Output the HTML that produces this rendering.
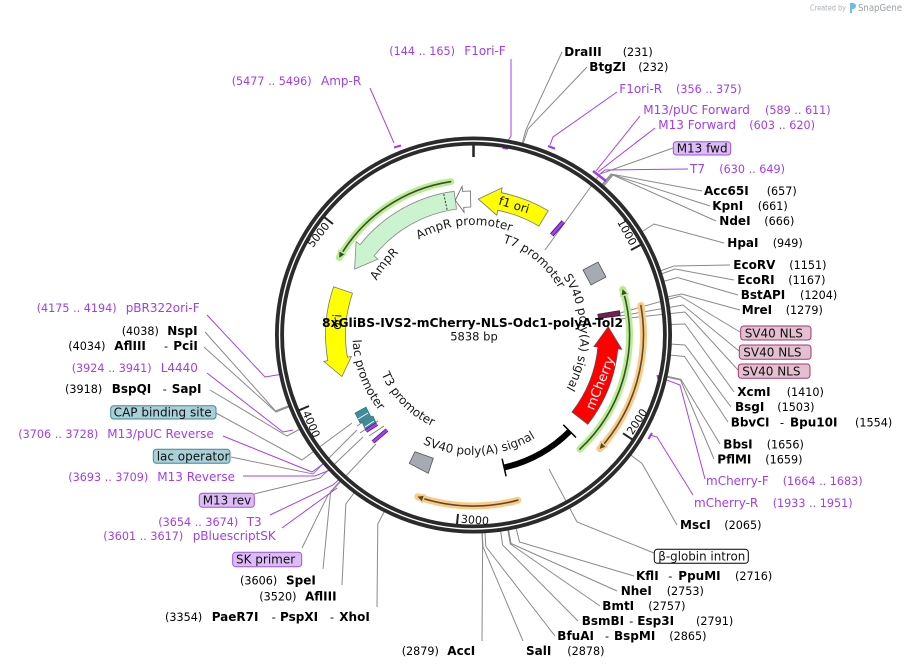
<!DOCTYPE html>
<html><head><meta charset="utf-8"><style>
html,body{margin:0;padding:0;background:#fff;}
svg{display:block;font-family:"DejaVu Sans","Liberation Sans",sans-serif;}
.b{font-weight:bold;font-size:12px;fill:#000}
.n{font-size:11.2px;fill:#000}
.p{font-size:12px;fill:#a23cf0}
.pn{font-size:11.2px;fill:#a23cf0}
.g{stroke:#8a8a8a;stroke-width:1;fill:none}
.pl{stroke:#a640f0;stroke-width:1;fill:none}
.pm{stroke:#a23cf0;stroke-width:2.2;fill:none}
.in{font-size:12px;fill:#1a1a1a}
.bx{font-size:12px;fill:#111}
</style></head><body>
<svg width="907" height="670" viewBox="0 0 907 670" xmlns="http://www.w3.org/2000/svg">
<defs>
<path id="pamprp" d="M 418.5 239.7 A 110 110 0 0 1 511.1 231.6"/>
<path id="pampr" d="M 376.4 281.2 A 111 111 0 0 1 399.2 252.5"/>
<path id="pt7" d="M 503.5 242.7 A 97 97 0 0 1 558.3 288"/>
<path id="psvr" d="M 563.2 276.7 A 107 107 0 0 1 566.2 388.5"/>
<path id="psvb" d="M 417.2 441 A 120 120 0 0 0 540.6 434.5"/>
<path id="plac" d="M 352.5 337.1 A 121 121 0 0 0 380.8 412.8"/>
<path id="pt3" d="M 381.1 373.3 A 100 100 0 0 0 433.1 426.5"/>
</defs>

<!-- Created by SnapGene -->
<text x="810" y="10.5" font-size="7.5" fill="#aab0b5" textLength="36" lengthAdjust="spacingAndGlyphs">Created by</text>
<path d="M850 3 h3 a3 3 0 0 1 0 6 h-1 v4 h-2 z" fill="#6cbde8"/>
<text x="858" y="11" font-size="9.5" fill="#9aa0a6" textLength="44" lengthAdjust="spacingAndGlyphs">SnapGene</text>

<!-- Gray leader lines (enzymes) -->
<polyline class="g" points="562,52 526,129.6 522,144"/>
<polyline class="g" points="587,67 528,129 523,144"/>
<polyline class="g" points="702,191 611,174 601.5,185"/>
<polyline class="g" points="710,206 612,174.5 602,186"/>
<polyline class="g" points="716,221 613,175 603,187"/>
<polyline class="g" points="724,243 654,224 641.5,232"/>
<polyline class="g" points="730,265 674,266 660,271"/>
<polyline class="g" points="734,280 675,269 661,274"/>
<polyline class="g" points="738,295 677.5,277.5 663,281.5"/>
<polyline class="g" points="740,310 681.5,294 667,297"/>
<polyline class="g" points="734,392 685,324 670,324.5"/>
<polyline class="g" points="731,407 685,345 670,344"/>
<polyline class="g" points="728,422 684.5,356.5 669.5,355"/>
<polyline class="g" points="720,444 681,379.5 666,376"/>
<polyline class="g" points="714,459 680.5,380 666,377"/>
<polyline class="g" points="677,525 642,463.5 630,454.5"/>
<polyline class="g" points="634,576 519.5,542 516,527.5"/>
<polyline class="g" points="617,591 511,543.5 508.5,529"/>
<polyline class="g" points="600,606 510.3,544 507.7,529"/>
<polyline class="g" points="578,621 502.6,545 500.5,530"/>
<polyline class="g" points="555,636 485.8,546.5 485,531.5"/>
<polyline class="g" points="523,641 483,546.8 482.2,531.8"/>
<polyline class="g" points="482,641 482.6,546.8 482,531.8"/>
<polyline class="g" points="377,607 377.8,524 384.6,511"/>
<polyline class="g" points="342,585 345.8,504 354.8,492"/>
<polyline class="g" points="323,569 330.6,491.6 340.7,480.5"/>
<polyline class="g" points="210,390 287,436 300,429"/>
<polyline class="g" points="204,347 276,412 290,406.5"/>
<polyline class="g" points="205,332 275.5,411 289.5,405.5"/>
<!-- feature leader lines -->
<polyline class="g" points="673,148 600,174 545,250"/>
<polyline class="g" points="740,332 680,296 620,313"/>
<polyline class="g" points="739,351 683,305 620,316"/>
<polyline class="g" points="738,370 685,312 620,319"/>
<polyline class="g" points="654,553 577,522 549,469"/>
<polyline class="g" points="216,413 302,460 352,423"/>
<polyline class="g" points="231,457 313,474 357,430"/>
<polyline class="g" points="254,494 320,478 363,437"/>
<polyline class="g" points="302,548 328,495 376,444"/>

<!-- Purple primer lines -->
<polyline class="pl" points="370,88 394,143"/>
<line class="pm" x1="394" y1="147.5" x2="401" y2="145.5"/>
<polyline class="pl" points="511,59 511,136 507,142"/>
<line class="pm" x1="502.5" y1="147.8" x2="508" y2="148.6"/>
<polyline class="pl" points="617,92 553,137 550,145"/>
<line class="pm" x1="548" y1="146" x2="555" y2="148.7"/>
<polyline class="pl" points="640,116 596,171"/>
<polyline class="pl" points="655,128 598,172"/>
<polyline class="pl" points="688,169 605,170 600,174"/>
<line x1="593" y1="171" x2="606" y2="181" stroke="#a23cf0" stroke-width="2.6"/>
<polyline class="pl" points="705,479 680,385 659,377"/>
<line class="pm" x1="657.5" y1="375" x2="659.5" y2="383"/>
<polyline class="pl" points="693,495 657,437 650,435"/>
<line class="pm" x1="652" y1="433" x2="648.5" y2="439"/>
<polyline class="pl" points="207,315 265,377 283,374"/>
<line class="pm" x1="285" y1="371" x2="286" y2="378"/>
<polyline class="pl" points="207,373 283,432 293,430"/>
<line class="pm" x1="300" y1="426" x2="304" y2="420.5"/>
<polyline class="pl" points="223,436 312,472 327,461"/>
<line class="pm" x1="326" y1="459" x2="333" y2="464"/>
<polyline class="pl" points="243,476 315,476 335,468"/>
<line class="pm" x1="332" y1="466" x2="338" y2="471"/>
<polyline class="pl" points="270,515 333,485 343,476"/>
<line class="pm" x1="340" y1="474" x2="346" y2="478"/>
<polyline class="pl" points="282,528 337,488"/>

<!-- Ring -->
<circle cx="473.5" cy="335" r="194" fill="none" stroke="#2b2b2b" stroke-width="9"/>
<circle cx="473.5" cy="335" r="194" fill="none" stroke="#fff" stroke-width="1.4"/>
<!-- ticks -->
<g stroke="#222" stroke-width="2">
<line x1="473.5" y1="145.5" x2="473.5" y2="157" stroke-width="2.5"/>
<line x1="640.8" y1="244.8" x2="631" y2="250"/>
<line x1="632.3" y1="439.4" x2="623" y2="433.3"/>
<line x1="457" y1="524" x2="458" y2="514"/>
<line x1="299" y1="410.3" x2="309" y2="406"/>
<line x1="324.5" y1="217.3" x2="333" y2="224"/>
</g>
<g font-size="11" fill="#111">
<text transform="rotate(61.66 473.5 335)" x="470" y="155" text-anchor="end">1000</text>
<text transform="rotate(308.3 473.5 335)" x="470" y="155" text-anchor="end">5000</text>
<text transform="rotate(-56.68 473.5 335)" x="477" y="523" text-anchor="start">2000</text>
<text transform="rotate(4.98 473.5 335)" x="477" y="523" text-anchor="start">3000</text>
<text transform="rotate(66.64 473.5 335)" x="477" y="523" text-anchor="start">4000</text>
</g>

<!-- ORF glows -->
<g fill="none" stroke-linecap="round">
<path d="M 450.6 181.7 A 155 155 0 0 0 339.3 257.5" stroke="#b8ee90" stroke-width="7"/>
<path d="M 450.6 181.7 A 155 155 0 0 0 339.3 257.5" stroke="#3d4a32" stroke-width="1.6"/>
<path d="M 579.9 449.1 A 156 156 0 0 0 622.7 289.4" stroke="#b8ee90" stroke-width="7"/>
<path d="M 579.9 449.1 A 156 156 0 0 0 622.7 289.4" stroke="#3d4a32" stroke-width="1.6"/>
<path d="M 640.9 305.5 A 170 170 0 0 1 599.8 448.7" stroke="#fbcb85" stroke-width="7"/>
<path d="M 640.9 305.5 A 170 170 0 0 1 599.8 448.7" stroke="#5a4a30" stroke-width="1.6"/>
<path d="M 517.8 500.2 A 171 171 0 0 1 417.8 496.7" stroke="#fbcb85" stroke-width="7"/>
<path d="M 517.8 500.2 A 171 171 0 0 1 417.8 496.7" stroke="#5a4a30" stroke-width="1.6"/>
</g>
<g stroke-linejoin="round">
<polygon points="338.8,250.3 338.3,259.2 345.8,254.3" fill="#3d4a32" stroke="#b8ee90" stroke-width="1.5"/>
<polygon points="628.3,293.9 622.1,287.5 620.7,296.3" fill="#3d4a32" stroke="#b8ee90" stroke-width="1.5"/>
<polygon points="606.8,446.9 598.5,450.2 600.8,441.5" fill="#5a4a30" stroke="#fbcb85" stroke-width="1.5"/>
<polygon points="422.2,502.5 415.9,496.1 424.8,494.9" fill="#5a4a30" stroke="#fbcb85" stroke-width="1.5"/>
</g>

<!-- Features -->
<path d="M 548.2 210.7 A 145 145 0 0 0 501.2 192.7 L 502.1 187.8 L 478.2 199.1 L 496.8 215.2 L 497.7 210.3 A 127 127 0 0 1 538.9 226.1 Z" fill="#ffff00" stroke="#777" stroke-width="0.8"/>
<path d="M 454.1 191.3 A 145 145 0 0 0 360 244.7 L 356.1 241.6 L 354.6 269.1 L 378 259.1 L 374.1 255.9 A 127 127 0 0 1 456.5 209.1 Z" fill="#ccf3cf" stroke="#888" stroke-width="0.8"/>
<line x1="447.1" y1="209.7" x2="443.8" y2="194.1" stroke="#333" stroke-width="1" stroke-dasharray="2,1.5"/>
<path d="M 470.5 191 A 144 144 0 0 0 462.5 191.4 L 462.1 186.4 L 455.3 200.2 L 464.1 212.4 L 463.7 207.4 A 128 128 0 0 1 470.8 207 Z" fill="#fff" stroke="#666" stroke-width="0.8"/>
<path d="M 333.6 286.8 A 148 148 0 0 0 327.8 360.7 L 323.8 361.4 L 341.9 376.5 L 351.4 356.5 L 347.4 357.2 A 128 128 0 0 1 352.5 293.3 Z" fill="#ffff00" stroke="#777" stroke-width="0.8"/>
<path d="M 587.8 424.3 A 145 145 0 0 0 617.8 348.9 L 621.8 349.3 L 608.2 326.8 L 593.9 346.6 L 597.9 347 A 125 125 0 0 1 572 412 Z" fill="#ff0000" stroke="#555" stroke-width="0.8"/>
<path d="M 569.7 431.2 A 136 136 0 0 1 504.1 467.5" fill="none" stroke="#000" stroke-width="6"/>
<line x1="563.3" y1="424.8" x2="576" y2="437.5" stroke="#000" stroke-width="1.5"/>
<line x1="502.1" y1="458.7" x2="506.1" y2="476.3" stroke="#000" stroke-width="1.5"/>
<polygon points="597.8,314.2 619.5,310.6 620.2,315.7 598.4,318.6" fill="#6e2050" stroke="#3a0a28" stroke-width="0.6"/>
<polygon points="583,270 598,262 606,277 591,285" fill="#a6aab2" stroke="#555" stroke-width="0.8"/>
<polygon points="409.3,463.3 415,451.7 433.3,458.3 428.3,473.3" fill="#a6aab2" stroke="#555" stroke-width="0.8"/>
<line x1="551.7" y1="235" x2="563.3" y2="221.7" stroke="#4a1a7a" stroke-width="4.5"/>
<line x1="551.7" y1="235" x2="563.3" y2="221.7" stroke="#a640f0" stroke-width="2.6"/>
<!-- left cluster -->
<polygon points="355,413 366,407 371,417 360,423" fill="#3c8e9a" stroke="#2a6a75" stroke-width="0.6"/>
<polygon points="362,422 373,416 377,425 366,431" fill="#3c8e9a" stroke="#2a6a75" stroke-width="0.6"/>
<line x1="358" y1="419" x2="368" y2="413" stroke="#fff" stroke-width="0.8"/>
<line x1="365" y1="427" x2="374" y2="421" stroke="#fff" stroke-width="0.8"/>
<g stroke="#777" stroke-width="0.8">
<line x1="357" y1="426" x2="372" y2="416"/>
<line x1="360" y1="433" x2="378" y2="421"/>
<line x1="369" y1="436" x2="384" y2="426"/>
</g>
<line x1="366" y1="431" x2="377" y2="424" stroke="#4a1a7a" stroke-width="4"/>
<line x1="366" y1="431" x2="377" y2="424" stroke="#a640f0" stroke-width="2.4"/>
<line x1="373" y1="442" x2="387" y2="430" stroke="#4a1a7a" stroke-width="4"/>
<line x1="373" y1="442" x2="387" y2="430" stroke="#a640f0" stroke-width="2.4"/>

<!-- Inner labels -->
<text class="in" font-size="11.5"><textPath href="#pamprp" startOffset="50%" text-anchor="middle">AmpR promoter</textPath></text>
<text class="in"><textPath href="#pampr" startOffset="50%" text-anchor="middle">AmpR</textPath></text>
<text class="in"><textPath href="#pt7" startOffset="50%" text-anchor="middle">T7 promoter</textPath></text>
<text class="in" font-size="11.5"><textPath href="#psvr" startOffset="50%" text-anchor="middle">SV40 poly(A) signal</textPath></text>
<text class="in"><textPath href="#psvb" startOffset="50%" text-anchor="middle">SV40 poly(A) signal</textPath></text>
<text class="in"><textPath href="#plac" startOffset="50%" text-anchor="middle">lac promoter</textPath></text>
<text class="in"><textPath href="#pt3" startOffset="50%" text-anchor="middle">T3 promoter</textPath></text>
<text transform="translate(514,205) rotate(17)" text-anchor="middle" y="4" font-size="12" fill="#111">f1 ori</text>
<text transform="translate(600,383) rotate(-68)" text-anchor="middle" y="4.5" font-size="13" fill="#fff">mCherry</text>
<text transform="translate(337,322) rotate(-86)" text-anchor="middle" y="4" font-size="12" fill="#111">ori</text>

<!-- Title -->
<text x="472.5" y="327" text-anchor="middle" font-weight="bold" font-size="12.5" fill="#000" textLength="301" lengthAdjust="spacingAndGlyphs">8xGliBS-IVS2-mCherry-NLS-Odc1-polyA-Tol2</text>
<text x="474" y="340.5" text-anchor="middle" font-size="11.5" fill="#111">5838 bp</text>

<!-- Boxes -->
<rect x="673.3" y="141.7" width="57.4" height="13.3" rx="3" fill="#dcbcf6" stroke="#a050e0"/>
<text class="bx" x="676.7" y="152.5">M13 fwd</text>
<rect x="740.7" y="326" width="70.3" height="14" rx="3" fill="#e3bfd0" stroke="#a03a70"/>
<text class="bx" x="744.7" y="337.5">SV40 NLS</text>
<rect x="739.3" y="345" width="71.7" height="14.3" rx="3" fill="#e3bfd0" stroke="#a03a70"/>
<text class="bx" x="743.3" y="356.5">SV40 NLS</text>
<rect x="738.3" y="364" width="71.7" height="14.3" rx="3" fill="#e3bfd0" stroke="#a03a70"/>
<text class="bx" x="742.3" y="375.5">SV40 NLS</text>
<rect x="654.3" y="549.3" width="94" height="14" rx="3" fill="#fff" stroke="#000"/>
<text class="bx" x="658.3" y="560.5" textLength="87" lengthAdjust="spacingAndGlyphs">β-globin intron</text>
<rect x="110.7" y="405.7" width="105.3" height="13.3" rx="3" fill="#a9d0d9" stroke="#3a8a98"/>
<text class="bx" x="113.7" y="416.5" textLength="98" lengthAdjust="spacingAndGlyphs">CAP binding site</text>
<rect x="153.3" y="449.3" width="76.7" height="14" rx="3" fill="#a9d0d9" stroke="#3a8a98"/>
<text class="bx" x="156.7" y="460.5">lac operator</text>
<rect x="199.3" y="493.3" width="55" height="14" rx="3" fill="#dcbcf6" stroke="#a050e0"/>
<text class="bx" x="202.7" y="504.5">M13 rev</text>
<rect x="232.7" y="552.3" width="69" height="14.4" rx="3" fill="#dcbcf6" stroke="#a050e0"/>
<text class="bx" x="236" y="563.5">SK primer</text>

<!-- Labels top -->
<text y="55"><tspan x="389.3" class="pn">(144 .. 165)</tspan><tspan x="464.3" class="p">F1ori-F</tspan></text>
<text y="85"><tspan x="231.7" class="pn">(5477 .. 5496)</tspan><tspan x="321" class="p">Amp-R</tspan></text>
<text y="56"><tspan x="564.3" class="b">DraIII</tspan><tspan x="622.7" class="n">(231)</tspan></text>
<text y="71"><tspan x="589.3" class="b">BtgZI</tspan><tspan x="638.3" class="n">(232)</tspan></text>
<text y="93"><tspan x="619.3" class="p">F1ori-R</tspan><tspan x="676" class="pn">(356 .. 375)</tspan></text>
<text y="114"><tspan x="643.3" class="p">M13/pUC Forward</tspan><tspan x="765" class="pn">(589 .. 611)</tspan></text>
<text y="129"><tspan x="658.3" class="p">M13 Forward</tspan><tspan x="749.3" class="pn">(603 .. 620)</tspan></text>
<text y="173"><tspan x="690" class="p">T7</tspan><tspan x="719.3" class="pn">(630 .. 649)</tspan></text>
<!-- right -->
<text y="195"><tspan x="704" class="b">Acc65I</tspan><tspan x="766.7" class="n">(657)</tspan></text>
<text y="210"><tspan x="712.3" class="b">KpnI</tspan><tspan x="757.7" class="n">(661)</tspan></text>
<text y="225"><tspan x="719.3" class="b">NdeI</tspan><tspan x="764.3" class="n">(666)</tspan></text>
<text y="247"><tspan x="727.3" class="b">HpaI</tspan><tspan x="772.7" class="n">(949)</tspan></text>
<text y="269"><tspan x="733.3" class="b">EcoRV</tspan><tspan x="789.3" class="n">(1151)</tspan></text>
<text y="284"><tspan x="737.3" class="b">EcoRI</tspan><tspan x="788.3" class="n">(1167)</tspan></text>
<text y="299"><tspan x="740.7" class="b">BstAPI</tspan><tspan x="800" class="n">(1204)</tspan></text>
<text y="314"><tspan x="741.7" class="b">MreI</tspan><tspan x="785.7" class="n">(1279)</tspan></text>
<text y="396"><tspan x="737.3" class="b">XcmI</tspan><tspan x="786.7" class="n">(1410)</tspan></text>
<text y="411"><tspan x="735" class="b">BsgI</tspan><tspan x="777.3" class="n">(1503)</tspan></text>
<text y="426.5"><tspan x="730.7" class="b">BbvCI</tspan><tspan x="780" class="n">-</tspan><tspan x="790" class="b">Bpu10I</tspan><tspan x="855" class="n">(1554)</tspan></text>
<text y="448.5"><tspan x="723.3" class="b">BbsI</tspan><tspan x="766.7" class="n">(1656)</tspan></text>
<text y="463.5"><tspan x="717.3" class="b">PflMI</tspan><tspan x="765.3" class="n">(1659)</tspan></text>
<text y="485"><tspan x="706" class="p">mCherry-F</tspan><tspan x="782.7" class="pn">(1664 .. 1683)</tspan></text>
<text y="507"><tspan x="694" class="p">mCherry-R</tspan><tspan x="772.7" class="pn">(1933 .. 1951)</tspan></text>
<text y="529"><tspan x="680" class="b">MscI</tspan><tspan x="724.3" class="n">(2065)</tspan></text>
<!-- bottom -->
<text y="580"><tspan x="636" class="b">KflI</tspan><tspan x="668.3" class="n">-</tspan><tspan x="678.3" class="b">PpuMI</tspan><tspan x="735" class="n">(2716)</tspan></text>
<text y="595"><tspan x="620.7" class="b">NheI</tspan><tspan x="666.7" class="n">(2753)</tspan></text>
<text y="610"><tspan x="602.3" class="b">BmtI</tspan><tspan x="648.3" class="n">(2757)</tspan></text>
<text y="625"><tspan x="581.7" class="b">BsmBI</tspan><tspan x="629.3" class="n">-</tspan><tspan x="637.3" class="b">Esp3I</tspan><tspan x="696" class="n">(2791)</tspan></text>
<text y="640"><tspan x="557.3" class="b">BfuAI</tspan><tspan x="605" class="n">-</tspan><tspan x="614" class="b">BspMI</tspan><tspan x="669.3" class="n">(2865)</tspan></text>
<text y="655"><tspan x="526" class="b">SalI</tspan><tspan x="567.3" class="n">(2878)</tspan></text>
<text y="655"><tspan x="401.7" class="n">(2879)</tspan><tspan x="447.3" class="b">AccI</tspan></text>
<text y="621"><tspan x="165" class="n">(3354)</tspan><tspan x="211.7" class="b">PaeR7I</tspan><tspan x="271.7" class="n">-</tspan><tspan x="280" class="b">PspXI</tspan><tspan x="330" class="n">-</tspan><tspan x="339.3" class="b">XhoI</tspan></text>
<text y="600.5"><tspan x="259.3" class="n">(3520)</tspan><tspan x="305" class="b">AflIII</tspan></text>
<text y="584.5"><tspan x="240" class="n">(3606)</tspan><tspan x="286" class="b">SpeI</tspan></text>
<!-- left -->
<text y="540"><tspan x="103.3" class="pn">(3601 .. 3617)</tspan><tspan x="192.7" class="p">pBluescriptSK</tspan></text>
<text y="526"><tspan x="158.3" class="pn">(3654 .. 3674)</tspan><tspan x="246.7" class="p">T3</tspan></text>
<text y="481"><tspan x="68.3" class="pn">(3693 .. 3709)</tspan><tspan x="157.3" class="p">M13 Reverse</tspan></text>
<text y="438"><tspan x="18.3" class="pn">(3706 .. 3728)</tspan><tspan x="107.3" class="p">M13/pUC Reverse</tspan></text>
<text y="393"><tspan x="65" class="n">(3918)</tspan><tspan x="111.7" class="b">BspQI</tspan><tspan x="162.7" class="n">-</tspan><tspan x="171.7" class="b">SapI</tspan></text>
<text y="372"><tspan x="71.7" class="pn">(3924 .. 3941)</tspan><tspan x="160.7" class="p">L4440</tspan></text>
<text y="350"><tspan x="68.3" class="n">(4034)</tspan><tspan x="114.3" class="b">AflIII</tspan><tspan x="164" class="n">-</tspan><tspan x="173.3" class="b">PciI</tspan></text>
<text y="335"><tspan x="121.7" class="n">(4038)</tspan><tspan x="167.3" class="b">NspI</tspan></text>
<text y="312"><tspan x="36.7" class="pn">(4175 .. 4194)</tspan><tspan x="125.7" class="p">pBR322ori-F</tspan></text>
</svg>
</body></html>
